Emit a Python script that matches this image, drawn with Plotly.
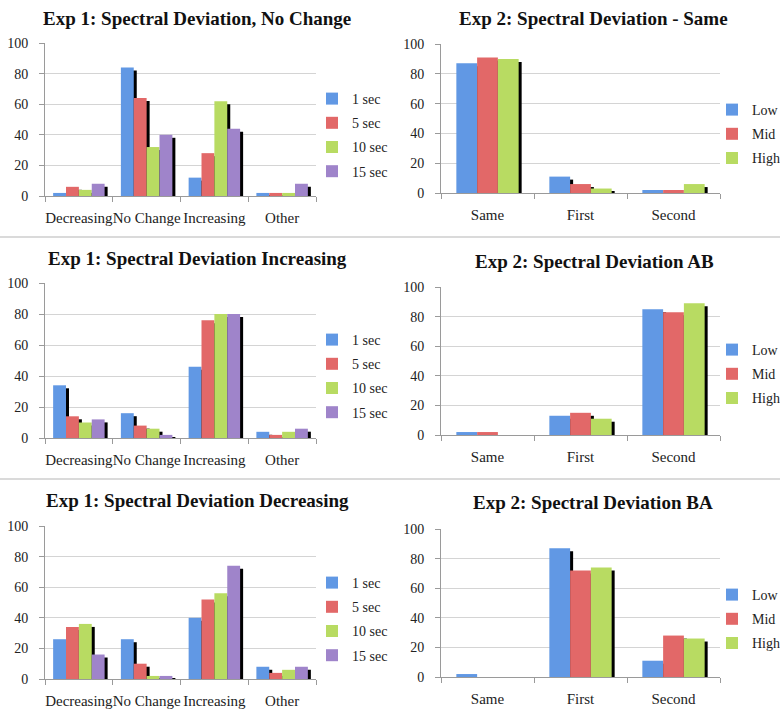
import plotly.graph_objects as go

# ---------------- data ----------------
exp1_categories = ["Decreasing", "No Change", "Increasing", "Other"]
exp1_series = ["1 sec", "5 sec", "10 sec", "15 sec"]
exp2_categories = ["Same", "First", "Second"]
exp2_series = ["Low", "Mid", "High"]
y_ticks = [0, 20, 40, 60, 80, 100]

# rows = series, columns = categories
exp1_no_change = [
    [2, 84, 12, 2],
    [6, 64, 28, 2],
    [4, 32, 62, 2],
    [8, 40, 44, 8],
]
exp1_increasing = [
    [34, 16, 46, 4],
    [14, 8, 76, 2],
    [10, 6, 80, 4],
    [12, 2, 80, 6],
]
exp1_decreasing = [
    [26, 26, 40, 8],
    [34, 10, 52, 4],
    [36, 2, 56, 6],
    [16, 2, 74, 8],
]
exp2_same = [
    [87, 11, 2],
    [91, 6, 2],
    [90, 3, 6],
]
exp2_ab = [
    [2, 13, 85],
    [2, 15, 83],
    [0, 11, 89],
]
exp2_ba = [
    [2, 87, 11],
    [0, 72, 28],
    [0, 74, 26],
]

colors4 = ["#6198E4", "#E26868", "#B8DB62", "#9F84CA"]
colors3 = ["#6198E4", "#E26868", "#B8DB62"]

W, H = 780, 713
FONT = "Liberation Serif"


def xd(a, b):
    return [a / W, b / W]


def yd(top, bottom):
    return [1 - bottom / H, 1 - top / H]


panels = [
    dict(title="Exp 1: Spectral Deviation, No Change", cats=exp1_categories, series=exp1_series,
         vals=exp1_no_change, colors=colors4, x=(45, 316), y=(43, 196), tx=197, ty=18,
         lx=312, ly=83, group=0.76),
    dict(title="Exp 2: Spectral Deviation - Same", cats=exp2_categories, series=exp2_series,
         vals=exp2_same, colors=colors3, x=(441, 720), y=(44, 193), tx=593, ty=18,
         lx=712, ly=94, group=0.67),
    dict(title="Exp 1: Spectral Deviation Increasing", cats=exp1_categories, series=exp1_series,
         vals=exp1_increasing, colors=colors4, x=(45, 316), y=(283, 438), tx=197, ty=258,
         lx=312, ly=324, group=0.76),
    dict(title="Exp 2: Spectral Deviation AB", cats=exp2_categories, series=exp2_series,
         vals=exp2_ab, colors=colors3, x=(441, 720), y=(287, 435), tx=594, ty=262,
         lx=712, ly=334, group=0.67),
    dict(title="Exp 1: Spectral Deviation Decreasing", cats=exp1_categories, series=exp1_series,
         vals=exp1_decreasing, colors=colors4, x=(45, 316), y=(526, 679), tx=197, ty=500,
         lx=312, ly=567, group=0.76),
    dict(title="Exp 2: Spectral Deviation BA", cats=exp2_categories, series=exp2_series,
         vals=exp2_ba, colors=colors3, x=(441, 720), y=(529, 677), tx=593, ty=502,
         lx=712, ly=579, group=0.67),
]

fig = go.Figure()
layout = dict(
    width=W, height=H, margin=dict(l=0, r=0, t=0, b=0, autoexpand=False),
    paper_bgcolor="white", plot_bgcolor="white",
    barmode="overlay", font=dict(family=FONT, color="#222"),
    annotations=[], shapes=[], hovermode=False,
)

for i, p in enumerate(panels, start=1):
    xa = "x" if i == 1 else f"x{i}"
    ya = "y" if i == 1 else f"y{i}"
    lg = "legend" if i == 1 else f"legend{i}"
    n = len(p["series"])
    bw = p["group"] / n
    cat_px = (p["x"][1] - p["x"][0]) / len(p["cats"])
    dx = 3.0 / cat_px
    plot_h = p["y"][1] - p["y"][0]
    drop = 3.0 * 100 / plot_h
    # shadows first (drawn behind)
    for j, s in enumerate(p["series"]):
        sv = [max(v - drop, 0) if v > 0 else 0 for v in p["vals"][j]]
        fig.add_trace(go.Bar(
            x=p["cats"], y=sv, xaxis=xa, yaxis=ya, width=bw,
            offset=-p["group"] / 2 + j * bw + dx, marker=dict(color="black", line=dict(width=0)),
            showlegend=False, hoverinfo="skip"))
    for j, s in enumerate(p["series"]):
        fig.add_trace(go.Bar(
            x=p["cats"], y=p["vals"][j], name=s, xaxis=xa, yaxis=ya, width=bw,
            offset=-p["group"] / 2 + j * bw,
            marker=dict(color=p["colors"][j], line=dict(width=0)),
            legend=lg, legendgroup=f"{lg}_{j}", showlegend=True))

    layout["xaxis" if i == 1 else f"xaxis{i}"] = dict(
        domain=xd(*p["x"]), anchor=ya, type="category",
        range=[-0.5, len(p["cats"]) - 0.5],
        showline=True, linecolor="#9a9a9a", linewidth=1,
        ticks="outside", tickson="boundaries", ticklen=5, tickcolor="#9a9a9a",
        tickfont=dict(family=FONT, size=15, color="#222"), ticklabelstandoff=8,
        tickangle=0, showgrid=False, fixedrange=True, automargin=False,
    )
    layout["yaxis" if i == 1 else f"yaxis{i}"] = dict(
        domain=yd(*p["y"]), anchor=xa, range=[0, 100],
        tickvals=y_ticks, ticks="outside", ticklen=5, tickcolor="#9a9a9a",
        showline=True, linecolor="#9a9a9a", linewidth=1,
        showgrid=True, gridcolor="#d4d4d4", gridwidth=1, zeroline=False,
        tickfont=dict(family=FONT, size=14, color="#222"), ticklabelstandoff=8,
        fixedrange=True, automargin=False,
    )
    layout[lg] = dict(
        x=p["lx"] / W, y=1 - p["ly"] / H, xanchor="left", yanchor="top",
        xref="paper", yref="paper", bgcolor="rgba(0,0,0,0)",
        font=dict(family=FONT, size=14, color="#222"),
        itemwidth=30, tracegroupgap=3,
    )
    layout["annotations"].append(dict(
        text=f"<b>{p['title']}</b>", x=p["tx"] / W, y=1 - p["ty"] / H,
        xref="paper", yref="paper", xanchor="center", yanchor="middle",
        showarrow=False, font=dict(family=FONT, size=19, color="#111")))

for yy in (237, 479):
    layout["shapes"].append(dict(
        type="line", xref="paper", yref="paper", x0=0, x1=1,
        y0=1 - yy / H, y1=1 - yy / H, line=dict(color="#b5b5b5", width=1)))

fig.update_layout(**layout)
fig.write_html(
    "out.html",
    config={"displayModeBar": False},
    post_script="document.body.style.margin='0';document.body.style.overflow='hidden';",
)
